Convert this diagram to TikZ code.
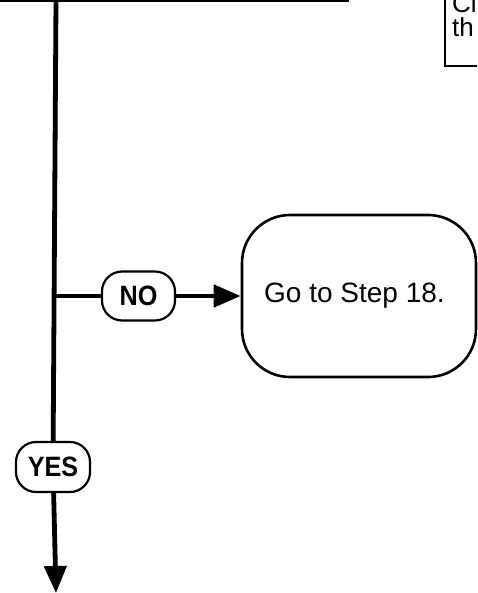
\documentclass[tikz,border=0pt]{standalone}
\usepackage{fontspec}
\setmainfont{Liberation Sans}
\newfontfamily\pillfont[FakeStretch=0.9]{Liberation Sans}
\usetikzlibrary{arrows.meta}
\tikzset{
  flow/.style={line width=4.8pt},
  pill/.style={draw, line width=2.2pt, rounded corners=20pt, fill=white, inner sep=0pt,
    font=\pillfont\fontsize{28}{30}\selectfont\bfseries},
  bigbox/.style={draw, line width=2.6pt, rounded corners=48pt, fill=white, inner sep=0pt},
  notebox/.style={draw, line width=2.4pt, fill=white},
  tip/.style={-{Triangle[length=27pt,width=22pt]}},
  label/.style={inner sep=0pt, anchor=base west, font=\fontsize{28}{30}\selectfont},
}
\begin{document}
\begin{tikzpicture}[x=1pt,y=-1pt]
\useasboundingbox (0,0) rectangle (477,593);
\begin{scope}
\clip (0,0) rectangle (477,593);
% note box at top right (cut by picture edge)
\node[notebox, minimum width=80pt, minimum height=90pt, anchor=south west] (note) at (444,67) {};
\node[label, font=\fontsize{26}{28}\selectfont] (l1) at (452,13) {Cl};
\node[label, font=\fontsize{26}{28}\selectfont] (l2) at (452,37) {th};
% top line
\coordinate (tl) at (0,0);
\coordinate (tr) at (349,0);
\draw[flow] (tl) -- (tr);
\end{scope}
\coordinate (vtop) at (56,0);
\coordinate (junc) at (56,296);
\coordinate (bot) at (56,593);
\node[pill, minimum width=73pt, minimum height=49pt] (no) at (138.5,296) {NO};
\node[pill, minimum width=74pt, minimum height=50pt] (yes) at (53,467) {YES};
\node[bigbox, minimum width=234pt, minimum height=162pt] (goto) at (359,296) {};
\node[label] (gotxt) at (264,302) {Go to Step 18.};
\draw[flow] (vtop) -- (yes);
\draw[flow, tip] (yes) -- (bot);
\draw[flow] (junc) -- (no);
\draw[flow, tip] (no) -- (goto);
\end{tikzpicture}
\end{document}
